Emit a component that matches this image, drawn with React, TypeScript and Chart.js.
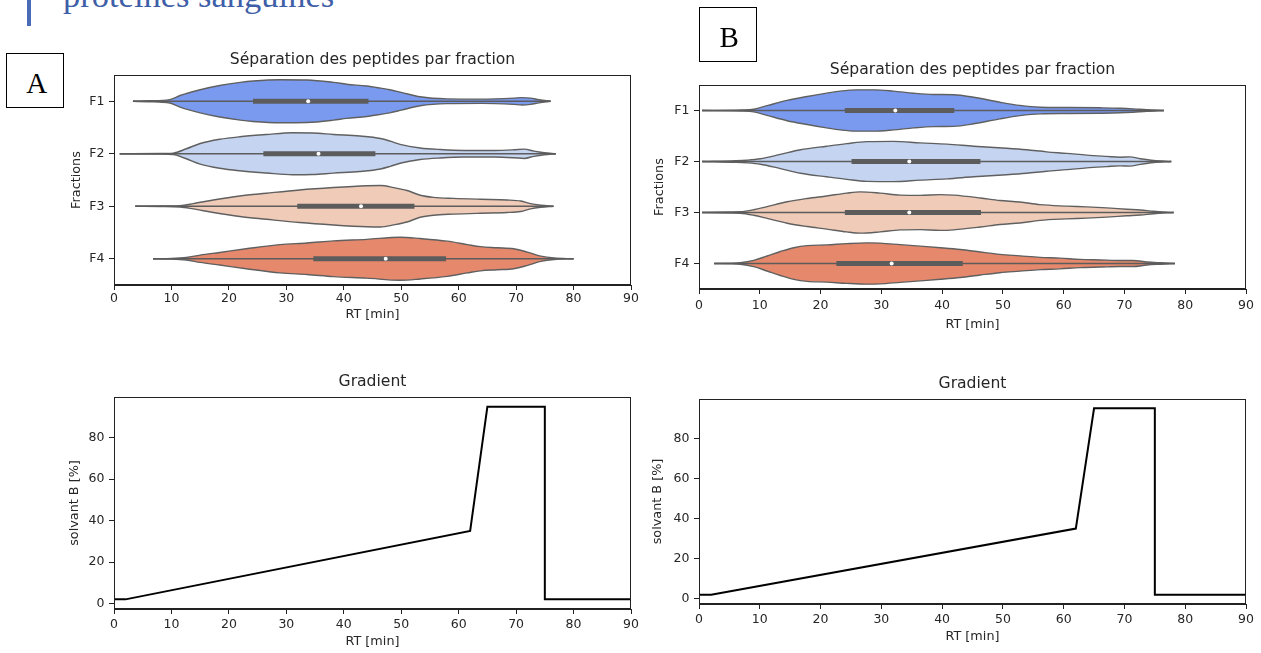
import React, { useEffect, useRef } from 'react';
import { Chart, registerables } from 'chart.js';

Chart.register(...registerables);

// ---------- data ----------
const rtTicks = [0, 10, 20, 30, 40, 50, 60, 70, 80, 90];
const fractionLabels = ['F1', 'F2', 'F3', 'F4'];
const solventTicks = [0, 20, 40, 60, 80];

const gradientTime = [0, 2, 62, 65, 75, 75, 90];
const gradientSolventB = [2, 2, 35, 95, 95, 2, 2];

const violinColors = ['#7a9af0', '#c4d4f1', '#efcbb8', '#e6886b'];

// density profiles: [RT (min), half-width as fraction of the category spacing]
const densityA_F1 = [[3.3, 0], [6, 0.01], [9.7, 0.032], [11.5, 0.11], [15, 0.22], [18.4, 0.3], [22, 0.36], [24.2, 0.385], [28.9, 0.41], [33.6, 0.405], [38.2, 0.36], [40.5, 0.325], [44, 0.29], [46.4, 0.25], [48, 0.22], [50, 0.17], [53.3, 0.085], [58, 0.045], [64, 0.04], [69.6, 0.06], [71, 0.07], [72.5, 0.06], [74, 0.03], [76, 0]];
const densityA_F2 = [[1, 0], [8, 0.005], [10.3, 0.013], [12.6, 0.095], [15, 0.196], [18.4, 0.276], [21.9, 0.324], [26.5, 0.366], [31.1, 0.4], [34.6, 0.396], [38.2, 0.368], [42.8, 0.337], [46.4, 0.29], [48.1, 0.24], [49.8, 0.18], [53.3, 0.11], [56.8, 0.08], [60.9, 0.063], [66.2, 0.063], [69.6, 0.076], [71.4, 0.089], [73.1, 0.05], [74.9, 0.02], [76.9, 0]];
const densityA_F3 = [[3.7, 0], [8, 0.005], [11.5, 0.013], [13.8, 0.05], [17.3, 0.12], [21.9, 0.196], [26.5, 0.248], [32.3, 0.31], [38.2, 0.356], [44, 0.39], [46.4, 0.395], [48.7, 0.355], [51, 0.3], [53.3, 0.21], [55.6, 0.17], [59.1, 0.15], [63.8, 0.133], [68.4, 0.12], [70.8, 0.1], [72.5, 0.05], [74.3, 0.02], [76.5, 0]];
const densityA_F4 = [[6.8, 0], [10, 0.005], [12.6, 0.025], [15, 0.07], [18.4, 0.12], [23, 0.19], [28.9, 0.27], [33.6, 0.3], [38.2, 0.34], [44, 0.37], [49.8, 0.41], [53.3, 0.385], [58, 0.335], [61.5, 0.27], [63.8, 0.23], [66.7, 0.21], [69.6, 0.19], [72, 0.126], [74.3, 0.05], [76.6, 0.013], [80, 0]];

const densityB_F1 = [[0.5, 0], [7, 0.01], [9, 0.026], [11.2, 0.095], [14.5, 0.2], [17.8, 0.275], [21, 0.34], [23.2, 0.38], [26, 0.405], [28.7, 0.405], [32, 0.38], [35.3, 0.34], [38.6, 0.315], [41.9, 0.31], [45.2, 0.26], [49.5, 0.163], [52.8, 0.1], [56.1, 0.065], [60.5, 0.059], [66, 0.053], [69.3, 0.045], [71.4, 0.033], [73.7, 0.014], [76.5, 0]];
const densityB_F2 = [[0.5, 0], [6, 0.015], [7.9, 0.026], [10.1, 0.053], [13.4, 0.14], [16.7, 0.23], [21, 0.3], [24.3, 0.35], [27.6, 0.39], [32, 0.395], [36.4, 0.365], [40.8, 0.34], [45.2, 0.3], [50.6, 0.26], [53.9, 0.23], [57.2, 0.19], [60.5, 0.16], [63.8, 0.125], [67.1, 0.1], [69.3, 0.085], [70.9, 0.09], [72.6, 0.055], [74.8, 0.02], [77.7, 0]];
const densityB_F3 = [[0.5, 0], [5, 0.01], [6.8, 0.014], [9, 0.053], [11.2, 0.115], [14.5, 0.21], [17.8, 0.275], [21, 0.325], [24.3, 0.38], [26.5, 0.405], [29.8, 0.38], [33.1, 0.34], [36.4, 0.335], [39.7, 0.35], [41.9, 0.34], [46.3, 0.285], [49.5, 0.235], [52.8, 0.205], [56.1, 0.154], [60.5, 0.125], [63.8, 0.11], [67.1, 0.09], [70.4, 0.065], [72.6, 0.05], [74.8, 0.025], [78.1, 0]];
const densityB_F4 = [[2.5, 0], [5, 0.005], [6.8, 0.014], [9, 0.06], [11.2, 0.147], [13.4, 0.235], [15.6, 0.31], [17.8, 0.35], [21, 0.365], [24.3, 0.39], [27.6, 0.405], [29.8, 0.4], [33.1, 0.37], [36.4, 0.34], [39.7, 0.31], [43, 0.275], [46.3, 0.225], [49.5, 0.18], [52.8, 0.15], [56.1, 0.12], [59.4, 0.105], [62.7, 0.08], [66, 0.07], [69.3, 0.06], [71.4, 0.06], [73.7, 0.03], [75.9, 0.014], [78.3, 0]];

// box statistics per fraction (F1..F4)
const whiskerMinA = [3.3, 1.0, 3.7, 6.8];
const whiskerMaxA = [76, 76.9, 76.5, 80];
const q1A = [24.2, 26.0, 31.9, 34.7];
const medianA = [33.8, 35.6, 43.0, 47.3];
const q3A = [44.3, 45.5, 52.3, 57.8];

const whiskerMinB = [0.5, 0.5, 0.5, 2.5];
const whiskerMaxB = [76.5, 77.7, 78.1, 78.3];
const q1B = [24.0, 25.1, 24.0, 22.6];
const medianB = [32.3, 34.6, 34.6, 31.7];
const q3B = [42.0, 46.3, 46.4, 43.4];

// ---------- styling ----------
const FONT = '"DejaVu Sans", "Noto Sans", sans-serif';
const textColor = '#262626';
const axisColor = '#222222';
const outlineColor = '#606060';
const boxColor = '#5c5c5c';
const TICK_SIZE = 12.5;
const LABEL_SIZE = 12.8;
const TITLE_SIZE = 15.6;

const framePlugin = {
  id: 'frame',
  afterDatasetsDraw(chart: any) {
    const { ctx, chartArea: a } = chart;
    ctx.save();
    ctx.strokeStyle = axisColor;
    ctx.lineWidth = 1;
    ctx.strokeRect(Math.round(a.left) + 0.5, Math.round(a.top) + 0.5, Math.round(a.right - a.left) - 1, Math.round(a.bottom - a.top) - 1);
    ctx.restore();
  },
};

function xScale(tickPad: number, titlePadBottom: number, height: number) {
  return {
    type: 'linear',
    min: 0,
    max: 90,
    afterBuildTicks: (s: any) => {
      s.ticks = rtTicks.map((v) => ({ value: v }));
    },
    afterFit: (s: any) => {
      s.height = height;
    },
    ticks: { font: { family: FONT, size: TICK_SIZE }, color: textColor, padding: tickPad, maxRotation: 0, autoSkip: false },
    grid: { display: true, drawOnChartArea: false, drawTicks: true, tickLength: 5, color: axisColor },
    border: { display: true, color: axisColor, width: 1 },
    title: { display: true, text: 'RT [min]', font: { family: FONT, size: LABEL_SIZE }, color: textColor, padding: { top: 0, bottom: titlePadBottom } },
  };
}

function titleOpts(text: string) {
  return {
    display: true,
    text,
    fullSize: false,
    font: { family: FONT, size: TITLE_SIZE, weight: 'normal' },
    color: textColor,
    padding: { top: 4.0, bottom: 5.3 },
  };
}

type Panel = { left: number; top: number; width: number; height: number };

function makeViolin(canvas: HTMLCanvasElement, densities: number[][][], wMin: number[], wMax: number[], q1: number[], med: number[], q3: number[], cfg: any) {
  const datasets: any[] = [];
  densities.forEach((dens, i) => {
    datasets.push({
      data: dens.map(([x, w]) => ({ x, y: i - w })),
      borderColor: outlineColor,
      borderWidth: 1.4,
      pointRadius: 0,
      fill: false,
      cubicInterpolationMode: 'monotone',
      order: 3,
    });
    datasets.push({
      data: dens.map(([x, w]) => ({ x, y: i + w })),
      borderColor: outlineColor,
      borderWidth: 1.4,
      pointRadius: 0,
      fill: '-1',
      backgroundColor: violinColors[i],
      cubicInterpolationMode: 'monotone',
      order: 3,
    });
  });
  fractionLabels.forEach((_, i) => {
    datasets.push({
      data: [{ x: wMin[i], y: i }, { x: wMax[i], y: i }],
      borderColor: boxColor,
      borderWidth: 1.6,
      pointRadius: 0,
      fill: false,
      order: 2,
    });
    datasets.push({
      data: [{ x: q1[i], y: i }, { x: q3[i], y: i }],
      borderColor: boxColor,
      borderWidth: 5,
      borderCapStyle: 'butt',
      pointRadius: 0,
      fill: false,
      order: 1,
    });
    datasets.push({
      data: [{ x: med[i], y: i }],
      showLine: false,
      pointRadius: 2,
      pointBorderWidth: 0,
      pointBackgroundColor: '#ffffff',
      fill: false,
      order: 0,
    });
  });
  return new Chart(canvas, {
    type: 'line',
    data: { datasets },
    options: {
      responsive: false,
      animation: false,
      events: [],
      layout: { padding: { left: 0, right: cfg.right, top: 0, bottom: 0 } },
      plugins: { legend: { display: false }, tooltip: { enabled: false }, title: titleOpts('Séparation des peptides par fraction') },
      scales: {
        x: xScale(cfg.xTickPad, cfg.xTitlePad, 45),
        y: {
          type: 'linear',
          min: -0.5,
          max: 3.5,
          reverse: true,
          afterBuildTicks: (s: any) => {
            s.ticks = fractionLabels.map((_, i) => ({ value: i }));
          },
          afterFit: (s: any) => {
            s.width = 50;
          },
          ticks: { font: { family: FONT, size: TICK_SIZE }, color: textColor, padding: 4.5, callback: (v: any) => fractionLabels[v] },
          grid: { display: true, drawOnChartArea: false, drawTicks: true, tickLength: 5, color: axisColor },
          border: { display: true, color: axisColor, width: 1 },
          title: { display: true, text: 'Fractions', font: { family: FONT, size: LABEL_SIZE }, color: textColor, padding: { top: cfg.yTitlePad, bottom: 0 } },
        },
      },
    } as any,
    plugins: [framePlugin],
  });
}

function makeGradient(canvas: HTMLCanvasElement, cfg: any) {
  return new Chart(canvas, {
    type: 'line',
    data: {
      datasets: [
        {
          data: gradientTime.map((t, i) => ({ x: t, y: gradientSolventB[i] })),
          borderColor: '#000000',
          borderWidth: 2,
          pointRadius: 0,
          tension: 0,
          fill: false,
        },
      ],
    },
    options: {
      responsive: false,
      animation: false,
      events: [],
      layout: { padding: { left: 0, right: cfg.right, top: 0, bottom: 0 } },
      plugins: { legend: { display: false }, tooltip: { enabled: false }, title: titleOpts('Gradient') },
      scales: {
        x: xScale(cfg.xTickPad, cfg.xTitlePad, 43),
        y: {
          type: 'linear',
          min: -2.65,
          max: 99.65,
          afterBuildTicks: (s: any) => {
            s.ticks = solventTicks.map((v) => ({ value: v }));
          },
          afterFit: (s: any) => {
            s.width = 50;
          },
          ticks: { font: { family: FONT, size: TICK_SIZE }, color: textColor, padding: 4.5 },
          grid: { display: true, drawOnChartArea: false, drawTicks: true, tickLength: 5, color: axisColor },
          border: { display: true, color: axisColor, width: 1 },
          title: { display: true, text: 'solvant B [%]', font: { family: FONT, size: LABEL_SIZE }, color: textColor, padding: { top: cfg.yTitlePad, bottom: 0 } },
        },
      },
    } as any,
    plugins: [framePlugin],
  });
}

function ChartCanvas({ panel, build }: { panel: Panel; build: (c: HTMLCanvasElement) => Chart }) {
  const ref = useRef<HTMLCanvasElement | null>(null);
  useEffect(() => {
    const chart = build(ref.current as HTMLCanvasElement);
    return () => chart.destroy();
  }, []);
  return (
    <canvas
      ref={ref}
      width={panel.width}
      height={panel.height}
      style={{ position: 'absolute', left: panel.left, top: panel.top, width: panel.width, height: panel.height }}
    />
  );
}

const panelVA: Panel = { left: 64, top: 47, width: 587, height: 283 };
const panelVB: Panel = { left: 649, top: 57, width: 611, height: 277 };
const panelGA: Panel = { left: 64, top: 369, width: 587, height: 283 };
const panelGB: Panel = { left: 649, top: 371, width: 611, height: 276 };

const serif = '"Liberation Serif", "Times New Roman", serif';

export default function App() {
  return (
    <div style={{ position: 'absolute', left: 0, top: 0, width: 1261, height: 653, overflow: 'hidden', background: '#ffffff' }}>
      <div style={{ position: 'absolute', left: 27, top: 0, width: 4, height: 26, background: '#4a6cb8' }} />
      <div style={{ position: 'absolute', left: 63, top: -22, fontFamily: serif, fontSize: 34.5, lineHeight: '1', color: '#3f5ea8', whiteSpace: 'nowrap' }}>
        protéines sanguines
      </div>

      <ChartCanvas panel={panelVA} build={(c) => makeViolin(c, [densityA_F1, densityA_F2, densityA_F3, densityA_F4], whiskerMinA, whiskerMaxA, q1A, medianA, q3A, { right: 20, xTickPad: 1.5, xTitlePad: 8.0, yTitlePad: 5.0 })} />
      <ChartCanvas panel={panelVB} build={(c) => makeViolin(c, [densityB_F1, densityB_F2, densityB_F3, densityB_F4], whiskerMinB, whiskerMaxB, q1B, medianB, q3B, { right: 14, xTickPad: 4, xTitlePad: 1.2, yTitlePad: 2.5 })} />
      <ChartCanvas panel={panelGA} build={(c) => makeGradient(c, { right: 20, xTickPad: 3, xTitlePad: 2.2, yTitlePad: 3.2 })} />
      <ChartCanvas panel={panelGB} build={(c) => makeGradient(c, { right: 14, xTickPad: 3.5, xTitlePad: 2.2, yTitlePad: 0.6 })} />

      <div style={{ position: 'absolute', left: 6, top: 53, width: 58, height: 55, border: '1px solid #000', boxSizing: 'border-box' }} />
      <div style={{ position: 'absolute', left: 26.3, top: 69, fontFamily: serif, fontSize: 29, lineHeight: '1', color: '#000' }}>A</div>
      <div style={{ position: 'absolute', left: 699, top: 7, width: 58, height: 55, border: '1px solid #000', boxSizing: 'border-box' }} />
      <div style={{ position: 'absolute', left: 719.4, top: 23.4, fontFamily: serif, fontSize: 29, lineHeight: '1', color: '#000' }}>B</div>
    </div>
  );
}
